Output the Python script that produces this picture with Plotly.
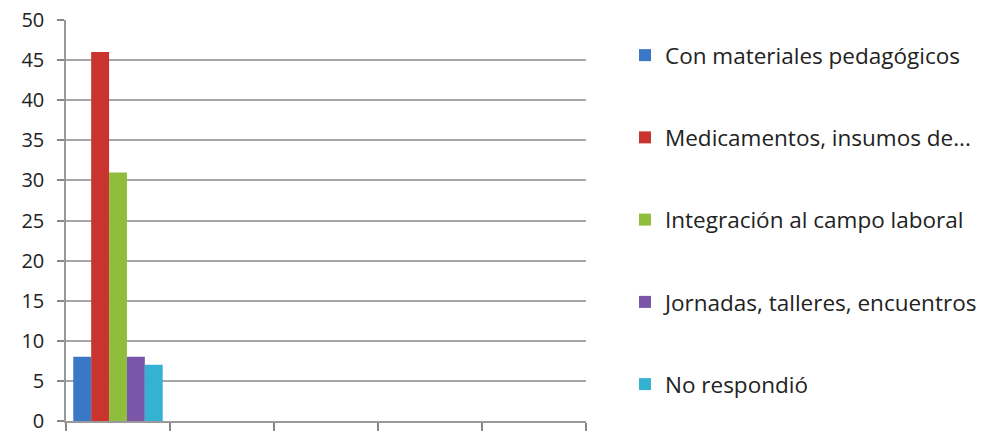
import plotly.graph_objects as go

categories = ["1", "2", "3", "4", "5"]
series_names = [
    "Con materiales pedagógicos",
    "Medicamentos, insumos de...",
    "Integración al campo laboral",
    "Jornadas, talleres, encuentros",
    "No respondió",
]
series_values = [[8], [46], [31], [8], [7]]
series_colors = ["#3a77c4", "#c9342f", "#8fbe3c", "#7a55a8", "#35b1d4"]
y_ticks = [0, 5, 10, 15, 20, 25, 30, 35, 40, 45, 50]

fig = go.Figure()
for i, (name, vals, col) in enumerate(zip(series_names, series_values, series_colors)):
    fig.add_trace(go.Bar(
        x=categories[:len(vals)], y=vals, name=name,
        marker=dict(color=col, line=dict(width=0)),
        legendgroup=f"g{i}",
    ))

W, H = 995, 435
PL, PR, PT, PB = 66, 586, 20, 421
LEG_X, LEG_TOP = 625, 34
fig.update_layout(
    width=W, height=H,
    margin=dict(l=PL, r=W - PR, t=PT, b=H - PB, autoexpand=False),
    paper_bgcolor="white", plot_bgcolor="white",
    barmode="group", bargap=0.14, bargroupgap=0,
    font=dict(family="Open Sans, sans-serif", size=22, color="#222222"),
    showlegend=True,
    legend=dict(
        x=(LEG_X - PL) / (PR - PL), xanchor="left",
        y=1 - (LEG_TOP - PT) / (PB - PT), yanchor="top",
        tracegroupgap=50,
        font=dict(size=22.5, color="#222222"),
        itemwidth=30,
        traceorder="grouped",
        bgcolor="rgba(0,0,0,0)",
    ),
    xaxis=dict(
        type="category", categoryorder="array", categoryarray=categories,
        range=[-0.5, len(categories) - 0.5],
        showticklabels=False, ticks="outside", tickson="boundaries",
        ticklen=8, tickcolor="#888888", tickwidth=1.5, showgrid=False,
        showline=True, linecolor="#999999", linewidth=1.5,
    ),
    yaxis=dict(
        range=[0, 50], tickvals=y_ticks, ticks="outside", ticklen=7,
        tickcolor="#888888", tickwidth=1.5, showline=True, linecolor="#999999", linewidth=1.5,
        showgrid=True, gridcolor="#a6a6a6", gridwidth=1.5,
        tickfont=dict(size=20, color="#222222"), zeroline=False,
        ticklabelstandoff=9, ticklabeloverflow="allow",
    ),
)

fig.write_html("out.html", config={"displayModeBar": False},
               post_script="document.body.style.margin='0';")
